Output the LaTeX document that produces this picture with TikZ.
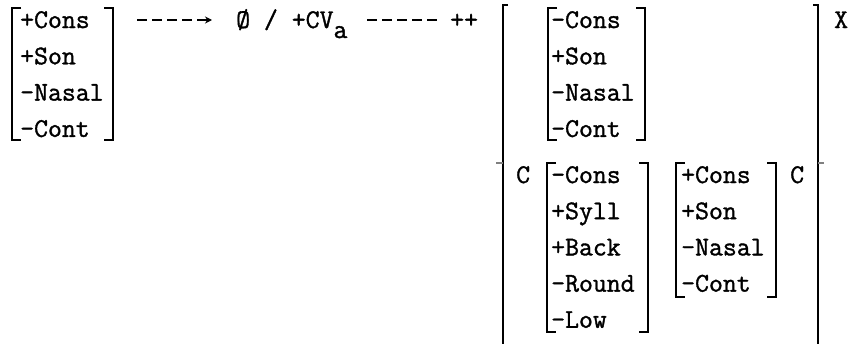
\documentclass[tikz,border=0pt]{standalone}
\usepackage{fontspec}
\newfontfamily\twfont{Latin Modern Mono}[FakeBold=1.3]
\usetikzlibrary{arrows.meta}

\tikzset{
  feat/.style={font=\twfont\fontsize{27}{30}\selectfont, anchor=base west, inner sep=0pt},
  brk/.style={line width=1.6pt},
  rulebar/.style={line width=2pt, dash pattern=on 10pt off 5pt},
}
% square bracket pair: left x, top y, right x, bottom y
\newcommand{\fbrk}[4]{%
  \draw[brk] (#1+9,#2) -- (#1,#2) -- (#1,#4) -- (#1+9,#4);
  \draw[brk] (#3-9,#2) -- (#3,#2) -- (#3,#4) -- (#3-9,#4);}

\begin{document}
\begin{tikzpicture}[x=1pt,y=-1pt]
    \useasboundingbox (0,0) rectangle (856,343);

    % input segment
    \foreach \t [count=\i from 0] in {+Cons,+Son,–Nasal,–Cont}
        \node[feat] (lhs\i) at (20,28+36.3*\i) {\t};
    \fbrk{12}{8}{113}{140}

    \coordinate (arrS) at (137,20);
    \coordinate (arrE) at (212,20);
    \draw[rulebar,-{Stealth[length=7pt,width=7pt]}] (arrS) -- (arrE);

    \node[feat] (out) at (236,28) {Ø / +CV\raisebox{-10pt}{a}};

    \coordinate (barS) at (367,20);
    \coordinate (barE) at (437,20);
    \draw[rulebar] (barS) -- (barE);

    \node[feat] (plus) at (450,28) {++};

    % environment
    \draw[brk] (508,5) -- (503,5) -- (503,346);
    \draw[brk] (813,5) -- (818,5) -- (818,346);
    \draw[gray,line width=1.5pt] (496,163) -- (503,163);
    \draw[gray,line width=1.5pt] (818,163) -- (824,163);

    \foreach \t [count=\i from 0] in {–Cons,+Son,–Nasal,–Cont}
        \node[feat] (envA\i) at (551,28+36.3*\i) {\t};
    \fbrk{548}{8}{645}{140}

    \node[feat] (cL) at (516,183) {C};
    \foreach \t [count=\i from 0] in {–Cons,+Syll,+Back,–Round,–Low}
        \node[feat] (envV\i) at (551,183+36.2*\i) {\t};
    \fbrk{547}{163}{648}{332}

    \foreach \t [count=\i from 0] in {+Cons,+Son,–Nasal,–Cont}
        \node[feat] (envC\i) at (681,183+36.2*\i) {\t};
    \fbrk{676}{163}{776}{297}
    \node[feat] (cR) at (790,183) {C};

    \node[feat] (x) at (834,28) {X};
\end{tikzpicture}
\end{document}
